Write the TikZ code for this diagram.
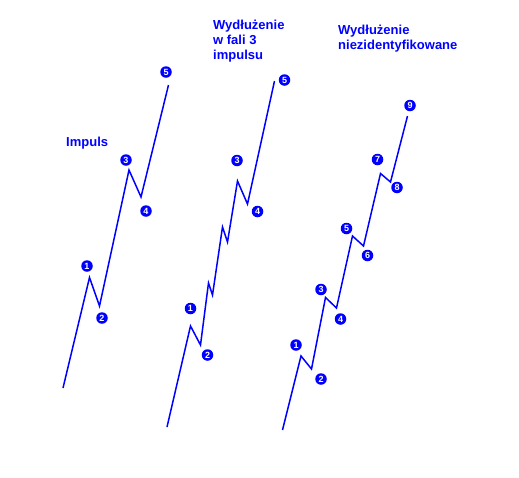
\documentclass[tikz,border=0pt]{standalone}
\usepackage{fontspec}
\setmainfont{Liberation Sans}
\usetikzlibrary{positioning}
\newcommand\waveColor{blue}
\newcommand\titleFont{\bfseries\fontsize{13}{15}\selectfont}
\tikzset{
    waveline/.style={draw=\waveColor, line width=1.5pt, line join=miter},
    wavept/.style={circle, fill=\waveColor, text=white, inner sep=0pt,
        minimum size=11.5pt, font=\bfseries\fontsize{9}{9}\selectfont},
    wavetitle/.style={text=\waveColor, font=\titleFont, align=left,
        anchor=base west, inner sep=0pt}
}

\begin{document}
\begin{tikzpicture}[x=1pt, y=-1pt]
    \useasboundingbox (0,0) rectangle (519,477);

    % impuls
    \begin{scope}
        \coordinate (a0) at (63,388);
        \coordinate (a1) at (89.5,277.5);
        \coordinate (a2) at (99.5,306);
        \coordinate (a3) at (129,170);
        \coordinate (a4) at (141,197);
        \coordinate (a5) at (168.5,85);
        \draw[waveline] (a0) -- (a1) -- (a2) -- (a3) -- (a4) -- (a5);
        \node[wavept] (la1) at (87,266) {1};
        \node[wavept] (la2) at (102,318) {2};
        \node[wavept] (la3) at (126,160) {3};
        \node[wavept] (la4) at (146,211) {4};
        \node[wavept] (la5) at (166,72) {5};
        \node[wavetitle] (ta) at (66,146) {Impuls};
    \end{scope}

    % wydluzenie w fali 3
    \begin{scope}
        \coordinate (b0) at (167,427);
        \coordinate (b1) at (190.5,326);
        \coordinate (b2) at (200.5,345);
        \coordinate (b3) at (208.5,283);
        \coordinate (b4) at (212.5,295);
        \coordinate (b5) at (222.5,227);
        \coordinate (b6) at (227.5,242);
        \coordinate (b7) at (237.5,181);
        \coordinate (b8) at (247.5,204);
        \coordinate (b9) at (274.5,81);
        \draw[waveline] (b0) -- (b1) -- (b2) -- (b3) -- (b4) -- (b5) -- (b6) -- (b7) -- (b8) -- (b9);
        \node[wavept] (lb1) at (190.5,308.5) {1};
        \node[wavept] (lb2) at (207.5,355) {2};
        \node[wavept] (lb3) at (237,160.5) {3};
        \node[wavept] (lb4) at (257.5,211.5) {4};
        \node[wavept] (lb5) at (284.5,80) {5};
        % base anchor sits on the last line
        \node[wavetitle] (tb) at (213,59) {Wydłużenie\\w fali 3\\impulsu};
    \end{scope}

    % wydluzenie niezidentyfikowane
    \begin{scope}
        \coordinate (c0) at (282.5,430);
        \coordinate (c1) at (301,356);
        \coordinate (c2) at (311.5,369);
        \coordinate (c3) at (325.5,297.5);
        \coordinate (c4) at (336.5,308);
        \coordinate (c5) at (352.5,236);
        \coordinate (c6) at (363.5,246);
        \coordinate (c7) at (380.5,173.5);
        \coordinate (c8) at (390.5,182);
        \coordinate (c9) at (407.5,116);
        \draw[waveline] (c0) -- (c1) -- (c2) -- (c3) -- (c4) -- (c5) -- (c6) -- (c7) -- (c8) -- (c9);
        \node[wavept] (lc1) at (296,345) {1};
        \node[wavept] (lc2) at (321,379) {2};
        \node[wavept] (lc3) at (321,289.5) {3};
        \node[wavept] (lc4) at (340.5,319) {4};
        \node[wavept] (lc5) at (346.5,228.5) {5};
        \node[wavept] (lc6) at (367.5,255.5) {6};
        \node[wavept] (lc7) at (377.5,159.5) {7};
        \node[wavept] (lc8) at (397,187.5) {8};
        \node[wavept] (lc9) at (410,105.5) {9};
        \node[wavetitle] (tc) at (338,49) {Wydłużenie\\niezidentyfikowane};
    \end{scope}
\end{tikzpicture}
\end{document}
